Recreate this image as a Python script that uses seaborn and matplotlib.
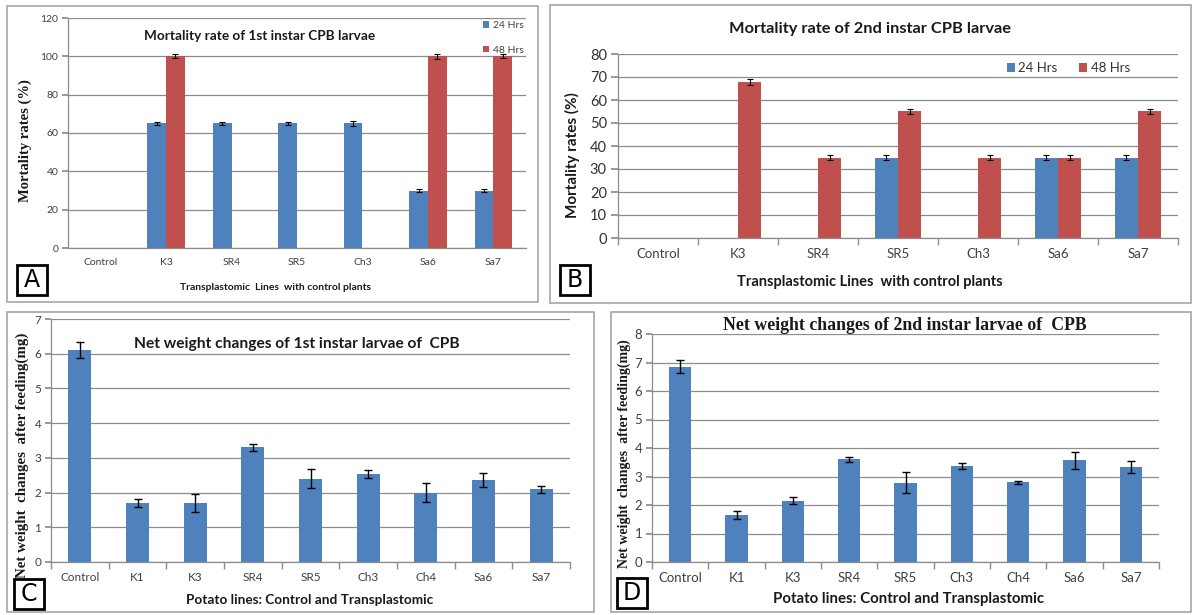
import numpy as np
import pandas as pd
import matplotlib
matplotlib.use("Agg")
import matplotlib.pyplot as plt
from matplotlib.patches import Rectangle
import seaborn as sns

# mortality panels (A, B)
mort_lines = ["Control", "K3", "SR4", "SR5", "Ch3", "Sa6", "Sa7"]
periods = ["24 Hrs", "48 Hrs"]
mort1_24 = [0, 65, 65, 65, 65, 30, 30]
mort1_48 = [0, 100, 0, 0, 0, 100, 100]
mort1_24_err = [0, 1, 1, 1, 1.2, 1, 1]
mort1_48_err = [0, 1, 0, 0, 0, 1.2, 1]
mort2_24 = [0, 0, 0, 35, 0, 35, 35]
mort2_48 = [0, 68, 35, 55, 35, 35, 55]
mort2_24_err = [0, 0, 0, 1.2, 0, 1, 1]
mort2_48_err = [0, 1.3, 1, 1.3, 1, 1, 1.3]

# weight panels (C, D)
wt_lines = ["Control", "K1", "K3", "SR4", "SR5", "Ch3", "Ch4", "Sa6", "Sa7"]
wt1 = [6.12, 1.7, 1.7, 3.3, 2.4, 2.53, 2.0, 2.35, 2.1]
wt1_err = [0.23, 0.12, 0.25, 0.1, 0.28, 0.12, 0.27, 0.2, 0.1]
wt2 = [6.85, 1.65, 2.15, 3.6, 2.78, 3.38, 2.8, 3.57, 3.33]
wt2_err = [0.23, 0.13, 0.13, 0.09, 0.37, 0.1, 0.05, 0.3, 0.22]

BLUE = "#4F81BD"
RED = "#C0504D"
GRID = "#8c8c8c"
W, H = 1193, 615

sns.set_theme(style="white")
plt.rcParams["font.family"] = ["Lato", "DejaVu Sans"]

fig = plt.figure(figsize=(W / 100, H / 100), dpi=100)


def fx(px):
    return px / W


def fy(py):
    return 1 - py / H


def axes_px(left, top, right, bottom):
    return fig.add_axes([fx(left), fy(bottom), (right - left) / W, (bottom - top) / H])


def mort_frame(a, b):
    return pd.DataFrame({
        "line": mort_lines * 2,
        "period": [periods[0]] * len(mort_lines) + [periods[1]] * len(mort_lines),
        "rate": a + b,
    })


def add_errs(ax, err_lists, lw=0.8, cap=2.5):
    for cont, errs in zip(ax.containers, err_lists):
        xs = np.array([b.get_x() + b.get_width() / 2 for b in cont])
        ys = np.array(cont.datavalues)
        errs = np.array(errs)
        m = errs > 0
        ax.errorbar(xs[m], ys[m], yerr=errs[m], fmt="none", ecolor="black",
                    elinewidth=lw, capsize=cap, capthick=lw, zorder=5)


def excel_axes(ax, ymax, step, tsize, between=True, ytick_len=4):
    n = len(ax.get_xticks())
    ax.set_ylim(0, ymax)
    ax.set_yticks(np.arange(0, ymax + step / 2, step))
    ax.yaxis.grid(True, color=GRID, lw=0.9)
    ax.xaxis.grid(False)
    ax.set_axisbelow(True)
    for s in ["top", "right"]:
        ax.spines[s].set_visible(False)
    for s in ["left", "bottom"]:
        ax.spines[s].set_color(GRID)
        ax.spines[s].set_linewidth(0.9)
    ax.tick_params(axis="y", length=ytick_len, color=GRID, direction="out",
                   labelsize=tsize, labelcolor="#404040", pad=3, left=True)
    ax.tick_params(axis="x", length=0, labelsize=tsize, labelcolor="#404040", pad=7)
    if between:
        ax.set_xticks(np.arange(-0.5, n), minor=True)
        ax.tick_params(axis="x", which="minor", length=5, color=GRID, bottom=True)
    ax.set_xlim(-0.5, n - 0.5)
    ax.set_xlabel("")
    ax.set_ylabel("")


# ---- A ----
axA = axes_px(68, 18, 526, 248)
sns.barplot(data=mort_frame(mort1_24, mort1_48), x="line", y="rate", hue="period",
            palette=[BLUE, RED], width=0.57, saturation=1, linewidth=0,
            errorbar=None, ax=axA)
add_errs(axA, [mort1_24_err, mort1_48_err])
excel_axes(axA, 120, 20, 7.5, between=False)
h, l = axA.get_legend_handles_labels()
axA.legend(h, l, loc="upper left", bbox_to_anchor=(fx(478), fy(16)),
           bbox_transform=fig.transFigure, frameon=False, fontsize=7.5,
           handlelength=0.6, handleheight=0.6, handletextpad=0.3,
           labelspacing=1.5, borderpad=0, labelcolor="#404040")

# ---- B ----
axB = axes_px(618, 54, 1178, 238)
sns.barplot(data=mort_frame(mort2_24, mort2_48), x="line", y="rate", hue="period",
            palette=[BLUE, RED], width=0.58, saturation=1, linewidth=0,
            errorbar=None, ax=axB)
add_errs(axB, [mort2_24_err, mort2_48_err])
excel_axes(axB, 80, 10, 9.5, ytick_len=5)
axB.tick_params(axis="y", labelsize=10.5, labelcolor="#333333")
h, l = axB.get_legend_handles_labels()
axB.legend(h, l, loc="center left", bbox_to_anchor=(fx(1000), fy(68)),
           bbox_transform=fig.transFigure, frameon=False, fontsize=9.5, ncol=2,
           handlelength=0.6, handleheight=0.7, handletextpad=0.3,
           columnspacing=1.6, borderpad=0, labelcolor="#333333")

# ---- C ----
axC = axes_px(51, 319, 570, 562)
sns.barplot(x=wt_lines, y=wt1, color=BLUE, width=0.4, saturation=1,
            linewidth=0, errorbar=None, ax=axC)
add_errs(axC, [wt1_err], lw=1.0, cap=3)
excel_axes(axC, 7, 1, 8.5)

# ---- D ----
axD = axes_px(652, 334, 1159, 562)
sns.barplot(x=wt_lines, y=wt2, color=BLUE, width=0.4, saturation=1,
            linewidth=0, errorbar=None, ax=axD)
add_errs(axD, [wt2_err], lw=1.0, cap=3)
excel_axes(axD, 8, 1, 9.5)

# titles
fig.text(fx(260), fy(36), "Mortality rate of 1st instar CPB larvae",
         ha="center", va="center", fontsize=9.8, fontweight="bold", color="#1a1a1a")
fig.text(fx(870), fy(29), "Mortality rate of 2nd instar CPB larvae",
         ha="center", va="center", fontsize=11.8, fontweight="bold", color="#1a1a1a")
fig.text(fx(297), fy(344), "Net weight changes of 1st instar larvae of  CPB",
         ha="center", va="center", fontsize=11.2, fontweight="bold", color="#1a1a1a")
fig.text(fx(905), fy(325), "Net weight changes of 2nd instar larvae of  CPB",
         ha="center", va="center", fontsize=12.8, fontweight="bold", color="#1a1a1a",
         family=["Liberation Serif", "DejaVu Serif"])

# axis labels (y label coords give the right edge of the rotated text)
serif = ["Liberation Serif", "DejaVu Serif"]
axA.set_xlabel("Transplastomic  Lines  with control plants", fontsize=7.5,
               fontweight="bold", color="#1a1a1a")
axA.xaxis.set_label_coords(fx(276), fy(283), transform=fig.transFigure)
axA.set_ylabel("Mortality rates (%)", fontsize=10.5, fontweight="bold",
               family=serif, color="#1a1a1a")
axA.yaxis.set_label_coords(fx(32), fy(141), transform=fig.transFigure)

axB.set_xlabel("Transplastomic Lines  with control plants", fontsize=10.5,
               fontweight="bold", color="#1a1a1a")
axB.xaxis.set_label_coords(fx(870), fy(275), transform=fig.transFigure)
axB.set_ylabel("Mortality rates (%)", fontsize=11, fontweight="bold", color="#1a1a1a")
axB.yaxis.set_label_coords(fx(580), fy(155), transform=fig.transFigure)

axC.set_xlabel("Potato lines: Control and Transplastomic", fontsize=9.8,
               fontweight="bold", color="#1a1a1a")
axC.xaxis.set_label_coords(fx(310), fy(594), transform=fig.transFigure)
axC.set_ylabel("Net weight  changes  after feeding(mg)", fontsize=10.8, fontweight="bold",
               family=serif, color="#1a1a1a")
axC.yaxis.set_label_coords(fx(29), fy(455), transform=fig.transFigure)

axD.set_xlabel("Potato lines: Control and Transplastomic", fontsize=10.8,
               fontweight="bold", color="#1a1a1a")
axD.xaxis.set_label_coords(fx(909), fy(592), transform=fig.transFigure)
axD.set_ylabel("Net weight  changes  after feeding(mg)", fontsize=10, fontweight="bold",
               family=serif, color="#1a1a1a")
axD.yaxis.set_label_coords(fx(631), fy(454), transform=fig.transFigure)

# panel frames
for (l, t, r, b) in [(7, 6, 538, 302), (550, 5, 1191, 303), (7, 312, 594, 612), (611, 312, 1191, 612)]:
    fig.patches.append(Rectangle((fx(l), fy(b)), (r - l) / W, (b - t) / H,
                                 transform=fig.transFigure, fill=False,
                                 edgecolor="#a6a6a6", lw=1.2))

# panel letters
for letter, (l, t) in {"A": (17, 265), "B": (560, 265), "C": (14, 579), "D": (617, 578)}.items():
    fig.patches.append(Rectangle((fx(l), fy(t + 30)), 30 / W, 30 / H,
                                 transform=fig.transFigure, fill=True, facecolor="white",
                                 edgecolor="black", lw=2))
    fig.text(fx(l + 15), fy(t + 15), letter, ha="center", va="center",
             fontsize=17, family=["DejaVu Sans"], color="black")

fig.savefig("out.png", dpi=100)
